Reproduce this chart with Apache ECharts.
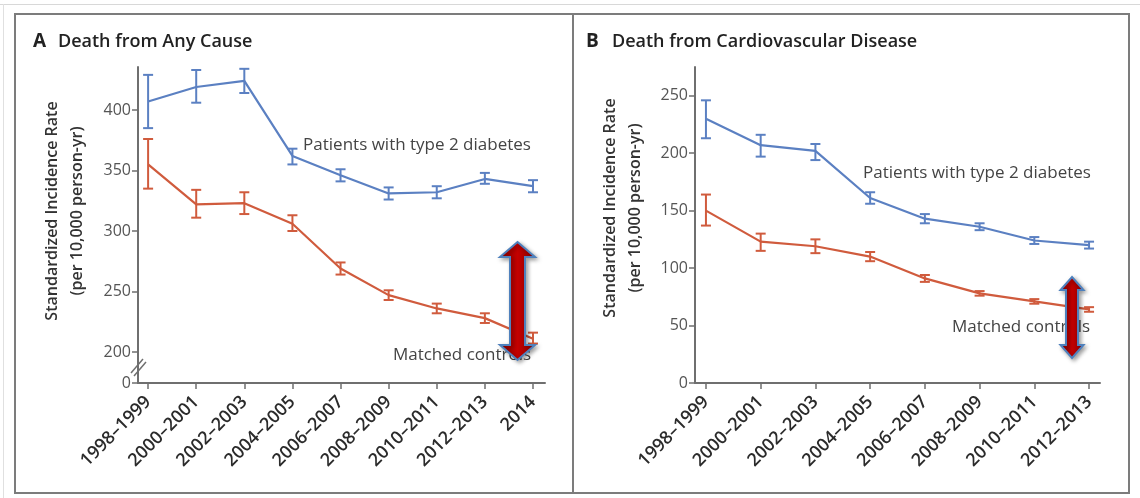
<!DOCTYPE html>
<html>
<head>
<meta charset="utf-8">
<script src="https://cdn.jsdelivr.net/npm/echarts@6/dist/echarts.min.js"></script>
<style>
html,body{margin:0;padding:0;background:#fff;}
#chart{width:1140px;height:498px;}
</style>
</head>
<body>
<div id="chart"></div>
<script>
// ---------- DATA ----------
var categoriesA = ['1998–1999','2000–2001','2002–2003','2004–2005','2006–2007','2008–2009','2010–2011','2012–2013','2014'];
var categoriesB = ['1998–1999','2000–2001','2002–2003','2004–2005','2006–2007','2008–2009','2010–2011','2012–2013'];

var diabetesA      = [407, 419, 424, 362, 346, 331, 332, 343, 337];
var diabetesA_low  = [385, 406, 414, 355, 341, 326, 327, 339, 332];
var diabetesA_high = [429, 433, 434, 368, 351, 336, 337, 348, 342];
var controlsA      = [355, 322, 323, 306, 269, 247, 236, 228, 211];
var controlsA_low  = [335, 311, 314, 300, 264, 243, 232, 224, 207];
var controlsA_high = [376, 334, 332, 313, 274, 251, 240, 232, 216];

var diabetesB      = [230, 207, 202, 161, 143, 136, 124, 120];
var diabetesB_low  = [213, 197, 194, 156, 139, 133, 121, 117];
var diabetesB_high = [246, 216, 208, 166, 147, 139, 127, 123];
var controlsB      = [150, 123, 119, 110, 91, 78, 71, 64];
var controlsB_low  = [137, 115, 113, 106, 88, 76, 69, 62];
var controlsB_high = [164, 130, 125, 114, 94, 80, 73, 66];

var yTicksA = [200, 250, 300, 350, 400];   // plus broken-axis "0" at the bottom
var yTicksB = [0, 50, 100, 150, 200, 250];

// ---------- STYLE ----------
var BLUE = '#5b80c2';
var RED = '#d05b3d';
var FONT = 'Open Sans';
var AXIS = '#6f6f6f';
var yMinA = 174.4, yMaxA = 435.5;

function idx(arr){ return arr.map(function(_, i){ return i; }); }
function pts(vals){ return vals.map(function(v, i){ return [i, v]; }); }
function bars(lo, hi){ return lo.map(function(v, i){ return [i, v, hi[i]]; }); }

function errRender(color){
  return function(params, api){
    var x = api.value(0);
    var p1 = api.coord([x, api.value(1)]);
    var p2 = api.coord([x, api.value(2)]);
    var w = 5;
    var st = {stroke: color, lineWidth: 2};
    return {type:'group', children:[
      {type:'line', shape:{x1:p1[0], y1:p1[1], x2:p2[0], y2:p2[1]}, style:st},
      {type:'line', shape:{x1:p1[0]-w, y1:p1[1], x2:p1[0]+w, y2:p1[1]}, style:st},
      {type:'line', shape:{x1:p2[0]-w, y1:p2[1], x2:p2[0]+w, y2:p2[1]}, style:st}
    ]};
  };
}

function xAxisCfg(gi, cats, min, max){
  return {
    type:'value', gridIndex: gi, min: min, max: max,
    axisLine:{show:true, onZero:false, lineStyle:{color:AXIS, width:2}},
    axisTick:{show:true, length:6, lineStyle:{color:AXIS, width:1.5}, customValues: idx(cats)},
    axisLabel:{customValues: idx(cats), rotate:45, margin:16, fontFamily:FONT, fontSize:18, fontWeight:600, color:'#2b2b2b',
      formatter:function(v){ return cats[Math.round(v)]; }},
    splitLine:{show:false}
  };
}

function arrow(cx, top, bottom, headW, shaftW, headH){
  return {
    type:'polygon', z:200,
    shape:{points:[
      [cx, top], [cx+headW/2, top+headH], [cx+shaftW/2, top+headH],
      [cx+shaftW/2, bottom-headH], [cx+headW/2, bottom-headH], [cx, bottom],
      [cx-headW/2, bottom-headH], [cx-shaftW/2, bottom-headH],
      [cx-shaftW/2, top+headH], [cx-headW/2, top+headH]
    ]},
    style:{
      fill:{type:'linear', x:0, y:0, x2:1, y2:0, colorStops:[
        {offset:0, color:'#8e0000'},{offset:0.5, color:'#c40000'},{offset:1, color:'#8e0000'}]},
      stroke:'#4f81bd', lineWidth:2,
      shadowBlur:4, shadowOffsetX:2, shadowOffsetY:2, shadowColor:'rgba(0,0,0,0.35)'
    }
  };
}

function ytitle(x, y){
  return {type:'text', x:x, y:y, rotation:Math.PI/2, z:50,
    style:{text:'Standardized Incidence Rate\n(per 10,000 person-yr)', fontFamily:FONT, fontSize:16, fontWeight:600,
      fill:'#333', align:'center', verticalAlign:'middle', lineHeight:25}};
}
function label(text, x, y){
  return {type:'text', x:x, y:y, z:50,
    style:{text:text, fontFamily:FONT, fontSize:17, fill:'#444', align:'center', verticalAlign:'middle'}};
}

var chart = echarts.init(document.getElementById('chart'), null, {renderer:'canvas'});
chart.setOption({
  animation:false,
  backgroundColor:'#fff',
  grid:[
    {left:138, top:67, width:407, height:316},
    {left:695, top:67, width:405, height:316}
  ],
  xAxis:[
    xAxisCfg(0, categoriesA, -0.21, 8.25),
    xAxisCfg(1, categoriesB, -0.2, 7.2)
  ],
  yAxis:[
    {type:'value', gridIndex:0, min:yMinA, max:yMaxA,
      axisLine:{show:true, onZero:false, lineStyle:{color:AXIS, width:2}},
      axisTick:{show:true, length:6, lineStyle:{color:AXIS, width:1.5}, customValues:[yMinA].concat(yTicksA)},
      axisLabel:{customValues:[yMinA].concat(yTicksA), margin:7, fontFamily:FONT, fontSize:16, color:'#555',
        formatter:function(v){ return v < 190 ? '0' : String(v); }},
      splitLine:{show:false}},
    {type:'value', gridIndex:1, min:0, max:275,
      axisLine:{show:true, onZero:false, lineStyle:{color:AXIS, width:2}},
      axisTick:{show:true, length:6, lineStyle:{color:AXIS, width:1.5}, customValues:yTicksB},
      axisLabel:{customValues:yTicksB, margin:7, fontFamily:FONT, fontSize:16, color:'#555'},
      splitLine:{show:false}}
  ],
  series:[
    {type:'line', xAxisIndex:0, yAxisIndex:0, data:pts(diabetesA), showSymbol:false, lineStyle:{color:BLUE, width:2.2}, z:2},
    {type:'line', xAxisIndex:0, yAxisIndex:0, data:pts(controlsA), showSymbol:false, lineStyle:{color:RED, width:2.2}, z:2},
    {type:'custom', xAxisIndex:0, yAxisIndex:0, data:bars(diabetesA_low, diabetesA_high), renderItem:errRender(BLUE), encode:{x:0, y:[1,2]}, z:3},
    {type:'custom', xAxisIndex:0, yAxisIndex:0, data:bars(controlsA_low, controlsA_high), renderItem:errRender(RED), encode:{x:0, y:[1,2]}, z:3},
    {type:'line', xAxisIndex:1, yAxisIndex:1, data:pts(diabetesB), showSymbol:false, lineStyle:{color:BLUE, width:2.2}, z:2},
    {type:'line', xAxisIndex:1, yAxisIndex:1, data:pts(controlsB), showSymbol:false, lineStyle:{color:RED, width:2.2}, z:2},
    {type:'custom', xAxisIndex:1, yAxisIndex:1, data:bars(diabetesB_low, diabetesB_high), renderItem:errRender(BLUE), encode:{x:0, y:[1,2]}, z:3},
    {type:'custom', xAxisIndex:1, yAxisIndex:1, data:bars(controlsB_low, controlsB_high), renderItem:errRender(RED), encode:{x:0, y:[1,2]}, z:3}
  ],
  graphic:[
    // outer light line and panel frames
    {type:'line', shape:{x1:0, y1:4.5, x2:1140, y2:4.5}, style:{stroke:'#d8d8d8', lineWidth:1}},
    {type:'line', shape:{x1:3.5, y1:4, x2:3.5, y2:498}, style:{stroke:'#e0e0e0', lineWidth:1}},
    {type:'rect', shape:{x:15, y:14, width:1114, height:479}, style:{fill:null, stroke:'#7c7c7c', lineWidth:2}},
    {type:'line', shape:{x1:573, y1:14, x2:573, y2:493}, style:{stroke:'#7c7c7c', lineWidth:2}},
    // panel titles
    {type:'text', x:33, y:42, style:{text:'A', fontFamily:FONT, fontSize:19, fontWeight:'bold', fill:'#222', verticalAlign:'middle'}},
    {type:'text', x:58, y:42, style:{text:'Death from Any Cause', fontFamily:FONT, fontSize:18, fontWeight:600, fill:'#222', verticalAlign:'middle'}},
    {type:'text', x:586, y:42, style:{text:'B', fontFamily:FONT, fontSize:19, fontWeight:'bold', fill:'#222', verticalAlign:'middle'}},
    {type:'text', x:612, y:42, style:{text:'Death from Cardiovascular Disease', fontFamily:FONT, fontSize:18, fontWeight:600, fill:'#222', verticalAlign:'middle'}},
    // y-axis titles
    ytitle(64.5, 211),
    ytitle(622.5, 208),
    // series labels
    label('Patients with type 2 diabetes', 417, 145),
    label('Matched controls', 462, 355),
    label('Patients with type 2 diabetes', 977, 173),
    label('Matched controls', 1021, 327),
    // axis break marks
    {type:'line', z:60, shape:{x1:131, y1:373, x2:143, y2:359}, style:{stroke:AXIS, lineWidth:1.5}},
    {type:'line', z:60, shape:{x1:134, y1:376, x2:146, y2:362}, style:{stroke:AXIS, lineWidth:1.5}},
    // highlight arrows
    arrow(517.5, 242, 360, 35, 15, 15),
    arrow(1072, 277, 358, 23, 12, 13)
  ]
});
</script>
</body>
</html>
